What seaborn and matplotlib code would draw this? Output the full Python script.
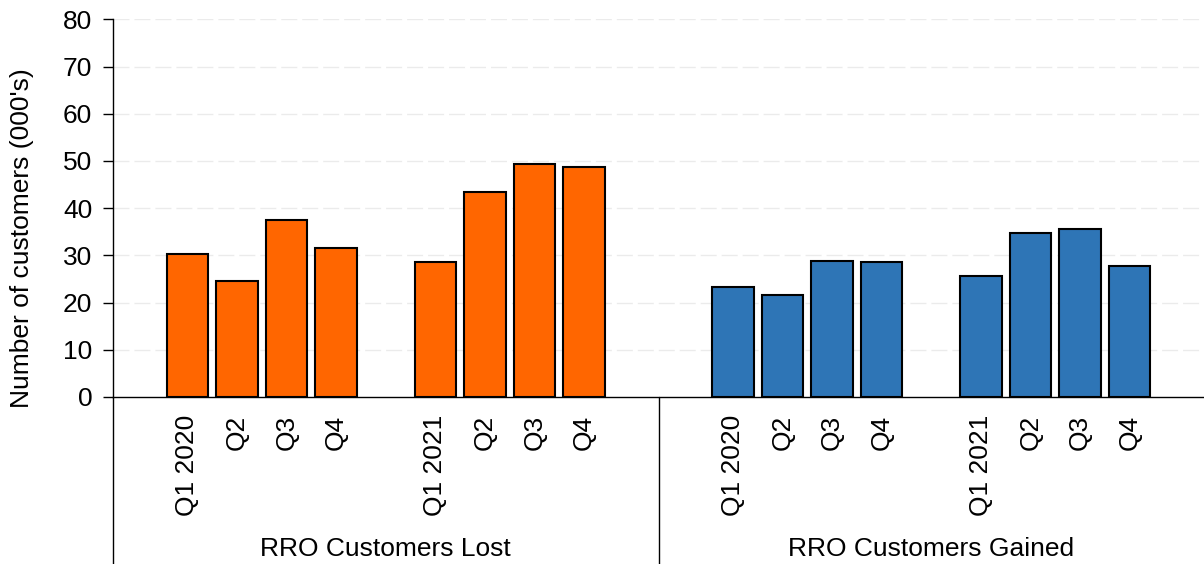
import matplotlib
matplotlib.use("Agg")
import matplotlib.pyplot as plt
import matplotlib.transforms as mtransforms
import numpy as np
import pandas as pd
import seaborn as sns

# Quarterly RRO customer movements, thousands
groups = ["RRO Customers Lost", "RRO Customers Gained"]
quarters = ["Q1 2020", "Q2", "Q3", "Q4", "Q1 2021", "Q2", "Q3", "Q4"]
lost = [30.3, 24.6, 37.4, 31.6, 28.5, 43.5, 49.3, 48.8]
gained = [23.4, 21.5, 28.8, 28.6, 25.6, 34.7, 35.5, 27.7]
colors = {"RRO Customers Lost": "#FF6600", "RRO Customers Gained": "#2E75B6"}
y_ticks = [0, 10, 20, 30, 40, 50, 60, 70, 80]
y_label = "Number of customers (000's)"

sns.set_theme(style="white")
plt.rcParams["font.family"] = ["Liberation Sans", "DejaVu Sans"]
for key in ["text.color", "axes.labelcolor", "xtick.color", "ytick.color"]:
    plt.rcParams[key] = "black"

# Build slot layout: each group = gap, 4 quarters, gap, 4 quarters, gap
rows = []
order = []
tick_pos = []
tick_lab = []
group_centers = []
for g, vals in zip(groups, [lost, gained]):
    start = len(order)
    order.append(f"{g}|gap0")
    for i, (q, v) in enumerate(zip(quarters, vals)):
        if i == 4:
            order.append(f"{g}|gap1")
        key = f"{g}|{i}"
        order.append(key)
        rows.append({"slot": key, "value": v, "group": g})
        tick_pos.append(len(order) - 1)
        tick_lab.append(q)
    order.append(f"{g}|gap2")
    group_centers.append((start + len(order) - 1) / 2)
df = pd.DataFrame(rows)

fig = plt.figure(figsize=(12.04, 5.64), dpi=100)
ax = fig.add_axes([113 / 1204, 167 / 564, 1091 / 1204, 377.7 / 564])

sns.barplot(data=df, x="slot", y="value", hue="group", order=order,
            hue_order=groups, palette=colors, dodge=False, width=0.84,
            saturation=1, edgecolor="black", linewidth=1.5, legend=False,
            ax=ax, zorder=3)

ax.set_xlim(-0.5, len(order) - 0.5)
ax.set_ylim(0, 80)
ax.set_yticks(y_ticks)
ax.set_xticks(tick_pos)
ax.set_xticklabels(tick_lab, rotation=90, fontsize=19, va="top")
ax.tick_params(axis="x", length=0, pad=13)
ax.tick_params(axis="y", length=7, width=1, color="black", direction="out",
               labelsize=19, pad=8, left=True)
ax.set_xlabel("")
ax.set_ylabel(y_label, fontsize=19)
ax.yaxis.set_label_coords(-0.072, 0.42)

for yv in y_ticks[1:]:
    ax.axhline(yv, color="#EBEBEB", linewidth=1, linestyle=(0, (11.5, 3.6)), zorder=1)

for side in ["top", "right"]:
    ax.spines[side].set_visible(False)
for side in ["left", "bottom"]:
    ax.spines[side].set_color("black")
    ax.spines[side].set_linewidth(1)

# Group separators and group labels below the quarter labels
trans = mtransforms.blended_transform_factory(ax.transData, fig.transFigure)
y_axis0 = 167 / 564
for xs in [-0.5, len(order) / 2 - 0.5]:
    ax.plot([xs, xs], [0, y_axis0], transform=trans, color="black",
            linewidth=1, clip_on=False)
for gc, g in zip(group_centers, groups):
    ax.text(gc, 1 - 549 / 564, g, transform=trans, ha="center", va="center",
            fontsize=19)

fig.savefig("out.png", dpi=100)
